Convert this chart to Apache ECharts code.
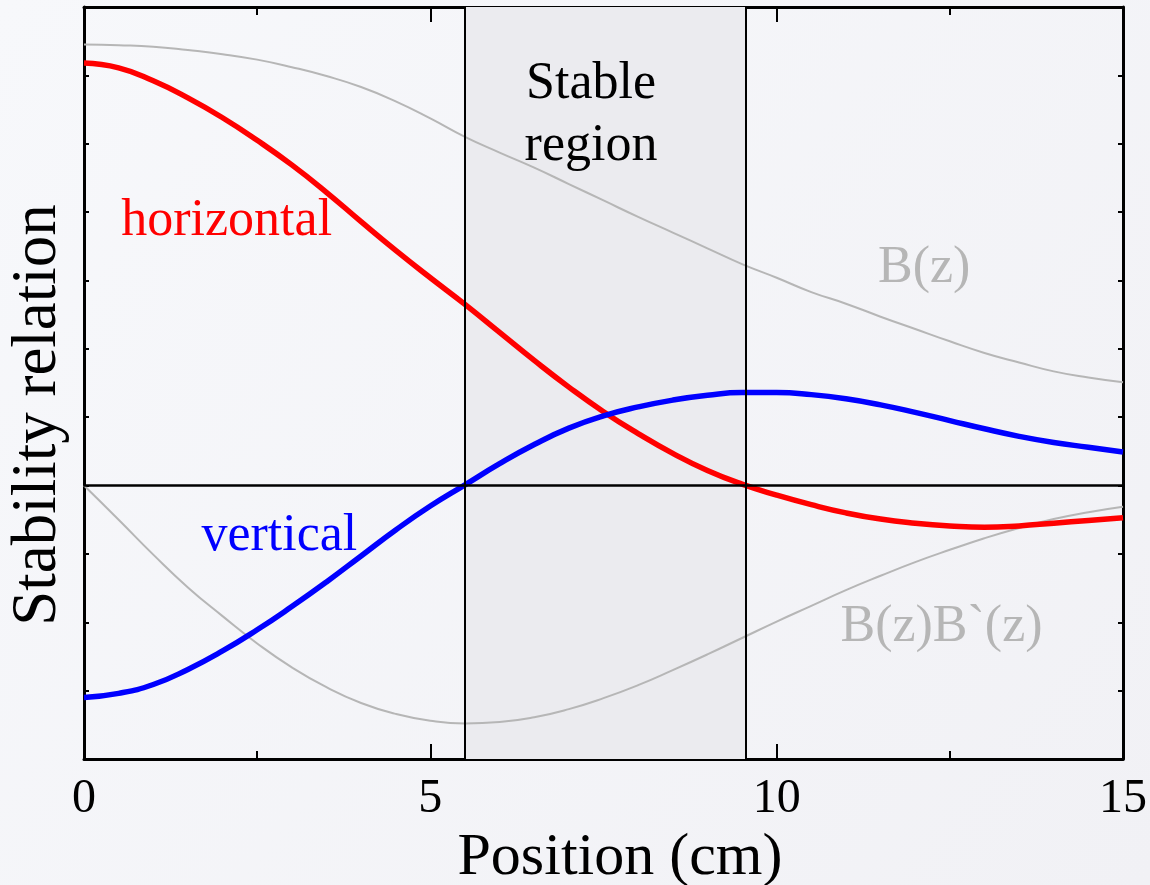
<!DOCTYPE html>
<html>
<head>
<meta charset="utf-8">
<script src="https://cdn.jsdelivr.net/npm/echarts@6/dist/echarts.min.js"></script>
<style>
  html, body { margin: 0; padding: 0; background: #f4f5f8; }
  #chart { width: 1150px; height: 885px; }
</style>
</head>
<body>
<div id="chart"></div>
<script>
// Position along the axis (cm)
const positions = [0, 0.5, 1, 1.5, 2, 2.5, 3, 3.5, 4, 4.5, 5, 5.5, 6, 6.5, 7, 7.5,
                   8, 8.5, 9, 9.5, 10, 10.5, 11, 11.5, 12, 12.5, 13, 13.5, 14, 14.5, 15];

// Stability relation, horizontal direction
const horizontal = [6.18, 6.11, 5.92, 5.67, 5.38, 5.05, 4.69, 4.29, 3.86, 3.44, 3.04, 2.65,
                    2.24, 1.83, 1.44, 1.08, 0.76, 0.47, 0.22, 0.02, -0.14, -0.28, -0.40,
                    -0.49, -0.55, -0.59, -0.61, -0.59, -0.55, -0.51, -0.47];

// Stability relation, vertical direction
const vertical = [-3.10, -3.04, -2.91, -2.69, -2.42, -2.11, -1.77, -1.41, -1.03, -0.65, -0.30,
                  0.01, 0.32, 0.60, 0.84, 1.02, 1.15, 1.25, 1.32, 1.36, 1.36, 1.33, 1.27,
                  1.18, 1.07, 0.95, 0.83, 0.72, 0.63, 0.56, 0.49];

// Field B(z)
const fieldB = [6.45, 6.44, 6.42, 6.37, 6.31, 6.23, 6.12, 5.99, 5.83, 5.62, 5.37, 5.10,
                4.87, 4.65, 4.41, 4.17, 3.93, 3.70, 3.47, 3.24, 3.04, 2.83, 2.66, 2.47,
                2.29, 2.11, 1.94, 1.80, 1.67, 1.58, 1.51];

// Product B(z)B`(z)
const fieldProduct = [0, -0.50, -1.01, -1.49, -1.91, -2.31, -2.66, -2.95, -3.18, -3.34, -3.44,
                      -3.48, -3.46, -3.39, -3.27, -3.11, -2.92, -2.70, -2.47, -2.23, -1.99,
                      -1.76, -1.53, -1.32, -1.12, -0.94, -0.77, -0.62, -0.49, -0.39, -0.31];

// Edges of the stable region (cm)
const stableBounds = [5.49, 9.55];

// Axis ranges
const xRange = [0, 15];
const yRange = [-4, 7];

const pair = (ys) => positions.map((x, i) => [x, ys[i]]);

const serif = "'Liberation Serif', 'Times New Roman', serif";
const GRAY = '#b6b6b6';

function textMark(coord, text, color) {
  return {
    coord: coord,
    symbol: 'circle',
    symbolSize: 0,
    label: {
      show: true, position: 'inside', formatter: text,
      color: color, fontFamily: serif, fontSize: 52, lineHeight: 62
    }
  };
}

const chart = echarts.init(document.getElementById('chart'), null, { renderer: 'canvas' });

const xAxisBase = {
  type: 'value', min: xRange[0], max: xRange[1], interval: 5,
  axisLine: { show: true, onZero: false, lineStyle: { color: '#000', width: 3 } },
  axisTick: { show: true, inside: true, length: 15, lineStyle: { color: '#000', width: 2 } },
  minorTick: { show: true, splitNumber: 2, length: 8, lineStyle: { color: '#000', width: 2 } },
  splitLine: { show: false }
};
const yAxisBase = {
  type: 'value', min: yRange[0], max: yRange[1], interval: 1,
  axisLine: { show: true, onZero: false, lineStyle: { color: '#000', width: 3 } },
  axisTick: { show: true, inside: true, length: 5, lineStyle: { color: '#000', width: 2 } },
  axisLabel: { show: false },
  splitLine: { show: false }
};

chart.setOption({
  backgroundColor: {
    type: 'linear', x: 0, y: 0, x2: 1, y2: 1,
    colorStops: [{ offset: 0, color: '#f7f8fb' }, { offset: 1, color: '#f1f1f5' }]
  },
  animation: false,
  grid: { left: 84, right: 27, top: 7, bottom: 126, outerBoundsMode: 'none', containLabel: false },
  xAxis: [
    Object.assign({}, xAxisBase, {
      position: 'bottom',
      name: 'Position (cm)', nameLocation: 'middle', nameGap: 63,
      nameTextStyle: { fontFamily: serif, fontSize: 60, color: '#000', padding: [0, 0, 0, 33] },
      axisLabel: { show: true, margin: 16, fontFamily: serif, fontSize: 48, color: '#000' }
    }),
    Object.assign({}, xAxisBase, { position: 'top', axisLabel: { show: false } })
  ],
  yAxis: [
    Object.assign({}, yAxisBase, {
      position: 'left',
      name: 'Stability relation', nameLocation: 'middle', nameGap: 14,
      nameTextStyle: { fontFamily: serif, fontSize: 63, color: '#000', padding: [0, 64, 0, 0] }
    }),
    Object.assign({}, yAxisBase, { position: 'right' })
  ],
  series: [
    {
      // stable region shading, boundaries and the zero line
      name: 'region', type: 'line', data: [], z: 1,
      markArea: {
        silent: true,
        itemStyle: { color: '#ebebef' },
        data: [[{ xAxis: stableBounds[0] }, { xAxis: stableBounds[1] }]]
      },
      markLine: {
        silent: true, symbol: 'none', label: { show: false },
        lineStyle: { color: '#000', type: 'solid', width: 2 },
        data: [
          { xAxis: stableBounds[0] },
          { xAxis: stableBounds[1] },
          { yAxis: 0, lineStyle: { width: 2.5 } }
        ]
      },
      markPoint: {
        silent: true,
        data: [textMark([(stableBounds[0] + stableBounds[1]) / 2 - 0.2, 5.42], 'Stable\nregion', '#000')]
      }
    },
    {
      name: 'B(z)', type: 'line', data: pair(fieldB), smooth: 0.5, showSymbol: false, z: 2,
      lineStyle: { color: GRAY, width: 2 }, itemStyle: { color: GRAY },
      markPoint: { silent: true, data: [textMark([12.13, 3.18], 'B(z)', GRAY)] }
    },
    {
      name: 'B(z)B`(z)', type: 'line', data: pair(fieldProduct), smooth: 0.5, showSymbol: false, z: 2,
      lineStyle: { color: GRAY, width: 2 }, itemStyle: { color: GRAY },
      markPoint: { silent: true, data: [textMark([12.38, -2.08], 'B(z)B`(z)', GRAY)] }
    },
    {
      name: 'horizontal', type: 'line', data: pair(horizontal), smooth: 0.5, showSymbol: false, z: 3,
      lineStyle: { color: '#ff0000', width: 5.5 }, itemStyle: { color: '#ff0000' },
      markPoint: { silent: true, data: [textMark([2.06, 3.86], 'horizontal', '#ff0000')] }
    },
    {
      name: 'vertical', type: 'line', data: pair(vertical), smooth: 0.5, showSymbol: false, z: 3,
      lineStyle: { color: '#0000ff', width: 5.5 }, itemStyle: { color: '#0000ff' },
      markPoint: { silent: true, data: [textMark([2.82, -0.75], 'vertical', '#0000ff')] }
    }
  ]
});
</script>
</body>
</html>
